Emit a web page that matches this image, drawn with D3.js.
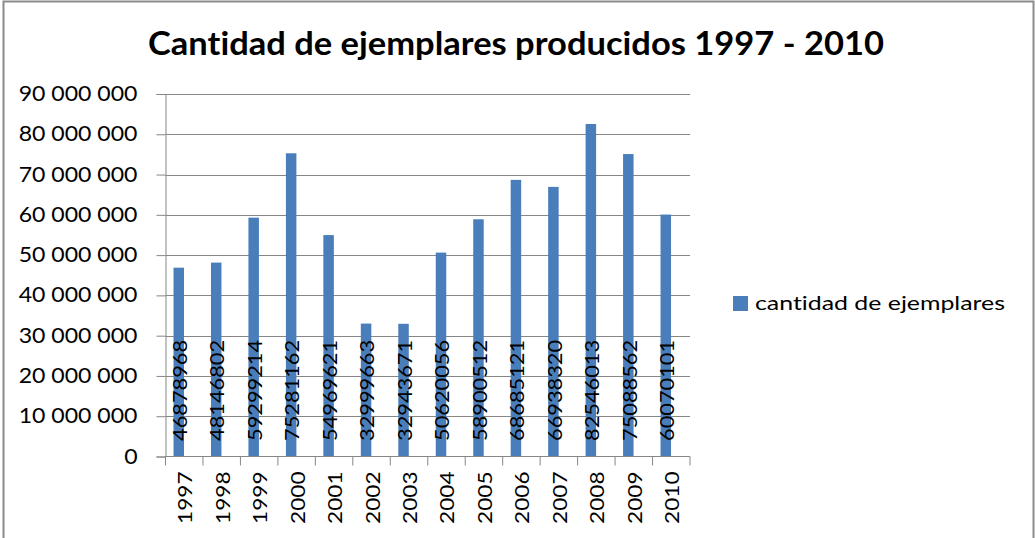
<!DOCTYPE html>
<html>
<head>
<meta charset="utf-8">
<script src="https://cdn.jsdelivr.net/npm/d3@7"></script>
<style>
  body { margin: 0; background: #fff; }
  text { font-family: Lato, "Open Sans", sans-serif; fill: #000; font-variant-ligatures: none; }
</style>
</head>
<body>
<div id="chart"></div>
<script>
// data
var years = ['1997', '1998', '1999', '2000', '2001', '2002', '2003', '2004', '2005', '2006', '2007', '2008', '2009', '2010'];
var ejemplares = [46878968, 48146802, 59299214, 75281162, 54969621, 32999663, 32943671, 50620056, 58900512, 68685121, 66938320, 82546013, 75088562, 60070101];
var yTicks = [0, 10000000, 20000000, 30000000, 40000000, 50000000, 60000000, 70000000, 80000000, 90000000];
var seriesName = 'cantidad de ejemplares';
var title = 'Cantidad de ejemplares producidos 1997 - 2010';

var width = 1035, height = 538;
var blue = '#4a7ebb', grid = '#868686';

var svg = d3.select('#chart').append('svg')
    .attr('width', width).attr('height', height);

// widen glyphs a bit, the source font runs wider than Lato
function stretch(sel, k) {
    sel.each(function () {
        var w = this.getComputedTextLength();
        d3.select(this).attr('textLength', w * k).attr('lengthAdjust', 'spacingAndGlyphs');
    });
}
function fitTo(sel, w) {
    sel.attr('textLength', w).attr('lengthAdjust', 'spacingAndGlyphs');
}

svg.append('rect')
    .attr('x', 3.5).attr('y', 1.5)
    .attr('width', 1030).attr('height', 560)
    .attr('fill', '#fff').attr('stroke', '#8c8c8c').attr('stroke-width', 2);

var x = d3.scaleBand().domain(years).range([165.5, 690]).padding(0);
var y = d3.scaleLinear().domain([0, 90000000]).range([456.5, 94]);

var fmt = function (v) { return d3.format(',')(v).replace(/,/g, ' '); };

// gridlines
svg.append('g').selectAll('line').data(yTicks.slice(1)).enter().append('line')
    .attr('x1', 165.5).attr('x2', 690)
    .attr('y1', function (d) { return Math.round(y(d)) + 0.5; })
    .attr('y2', function (d) { return Math.round(y(d)) + 0.5; })
    .attr('stroke', grid).attr('stroke-width', 1);

// y axis
var yAxis = svg.append('g')
    .attr('transform', 'translate(165.5,0)')
    .call(d3.axisLeft(y).tickValues(yTicks).tickSize(9).tickPadding(19).tickFormat(fmt));
yAxis.select('.domain').attr('stroke', grid);
yAxis.selectAll('.tick line').attr('stroke', grid);
yAxis.selectAll('.tick text')
    .style('font-family', 'Lato, sans-serif').style('font-size', '20.5px').attr('fill', '#000');
stretch(yAxis.selectAll('.tick text'), 1.125);

// bars
svg.append('g').selectAll('rect').data(ejemplares).enter().append('rect')
    .attr('x', function (d, i) { return x(years[i]) + 8; })
    .attr('width', 10.5)
    .attr('y', function (d) { return y(d); })
    .attr('height', function (d) { return y(0) - y(d); })
    .attr('fill', blue);

// x axis
var xAxis = svg.append('g')
    .attr('transform', 'translate(0,456.5)');
xAxis.append('line').attr('x1', 165.5).attr('x2', 690).attr('stroke', grid);
xAxis.selectAll('.tk').data(years.concat(['end'])).enter().append('line')
    .attr('class', 'tk')
    .attr('x1', function (d, i) { return 165.5 + i * x.bandwidth(); })
    .attr('x2', function (d, i) { return 165.5 + i * x.bandwidth(); })
    .attr('y1', 0).attr('y2', 9)
    .attr('stroke', grid);
var yearLabels = xAxis.selectAll('.yr').data(years).enter().append('text')
    .attr('class', 'yr')
    .attr('transform', function (d) { return 'translate(' + (x(d) + x.bandwidth() / 2) + ',15) rotate(-90)'; })
    .attr('text-anchor', 'end')
    .attr('dominant-baseline', 'central')
    .style('font-size', '20px')
    .text(function (d) { return d; });
stretch(yearLabels, 1.13);

// data labels
var labels = svg.append('g').selectAll('text').data(ejemplares).enter().append('text')
    .attr('transform', function (d, i) { return 'translate(' + (x(years[i]) + 13.5) + ',441) rotate(-90)'; })
    .attr('text-anchor', 'start')
    .attr('dominant-baseline', 'central')
    .style('font-size', '20px')
    .text(function (d) { return d; });
stretch(labels, 1.09);

// title
var t = svg.append('text')
    .attr('x', 516).attr('y', 55)
    .attr('text-anchor', 'middle')
    .style('font-size', '32px').style('font-weight', 'bold')
    .text(title);
fitTo(t, 736);

// legend
svg.append('rect')
    .attr('x', 733).attr('y', 296)
    .attr('width', 15).attr('height', 15)
    .attr('fill', blue);
var lg = svg.append('text')
    .attr('x', 755).attr('y', 310)
    .style('font-size', '20px')
    .text(seriesName);
fitTo(lg, 250);
</script>
</body>
</html>
